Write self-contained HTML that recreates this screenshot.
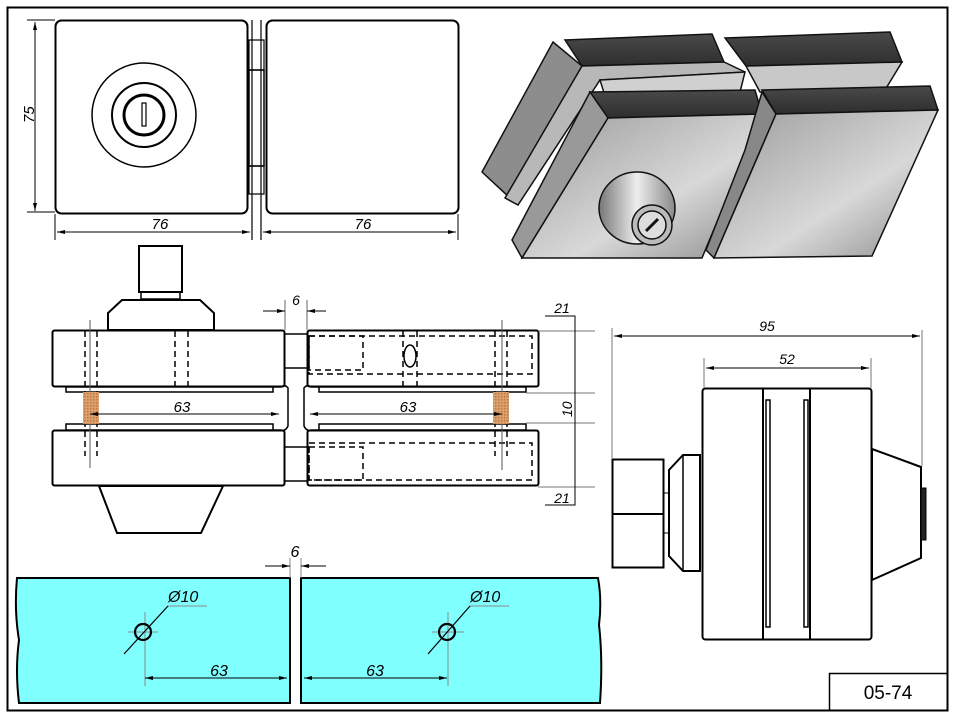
<!DOCTYPE html>
<html><head><meta charset="utf-8"><style>
html,body{margin:0;padding:0;background:#fff;}
svg{display:block;}
text{font-family:"Liberation Sans",sans-serif;}
</style></head><body>
<svg width="957" height="720" viewBox="0 0 957 720" xmlns="http://www.w3.org/2000/svg">
<defs>
<linearGradient id="gf" x1="0" y1="0" x2="1" y2="1">
<stop offset="0" stop-color="#9a9a9a"/><stop offset="0.6" stop-color="#d8d8d8"/><stop offset="1" stop-color="#8a8a8a"/></linearGradient>
<linearGradient id="gt" x1="0" y1="0" x2="0" y2="1">
<stop offset="0" stop-color="#4a4a4a"/><stop offset="1" stop-color="#2e2e2e"/></linearGradient>
<linearGradient id="gc" x1="0" y1="0" x2="1" y2="0">
<stop offset="0" stop-color="#777"/><stop offset="0.5" stop-color="#eee"/><stop offset="1" stop-color="#888"/></linearGradient>
<pattern id="hat" width="3" height="3" patternUnits="userSpaceOnUse"><rect width="3" height="3" fill="#d9a070"/><rect width="1.5" height="1.5" fill="#c07a40"/></pattern>
<marker id="ar" markerWidth="8" markerHeight="6" refX="8" refY="3" orient="auto-start-reverse" markerUnits="userSpaceOnUse"><path d="M0,1 L8,3 L0,5 Z" fill="#000"/></marker>
</defs>
<rect x="7.5" y="7.5" width="940" height="703" fill="none" stroke="#000" stroke-width="2"/>
<rect x="829.5" y="673.5" width="118" height="37" fill="none" stroke="#000" stroke-width="1.5"/>
<text x="888" y="699" font-size="19" text-anchor="middle">05-74</text>

<g fill="none" stroke="#000">
<rect x="55.5" y="20.5" width="192" height="193" rx="6" stroke-width="2"/>
<rect x="266.5" y="20.5" width="192" height="193" rx="6" stroke-width="2"/>
<line x1="252" y1="20" x2="252" y2="240" stroke-width="1.2"/>
<line x1="261" y1="20" x2="261" y2="240" stroke-width="1.2"/>
<rect x="249" y="40" width="15" height="30" stroke-width="1.2"/>
<rect x="249" y="70" width="15" height="96" stroke-width="1.5"/>
<rect x="249" y="166" width="15" height="28" stroke-width="1.2"/>
<circle cx="144" cy="115" r="52" stroke-width="1.5"/>
<circle cx="144" cy="115" r="32" stroke-width="2"/>
<circle cx="144" cy="115" r="20" stroke-width="3"/>
<rect x="142" y="103" width="4" height="23" stroke-width="1.2"/>
<line x1="27" y1="20" x2="55" y2="20" stroke-width="1"/>
<line x1="27" y1="212" x2="55" y2="212" stroke-width="1"/>
<line x1="35" y1="22" x2="35" y2="211" stroke-width="1" marker-start="url(#ar)" marker-end="url(#ar)"/>
<line x1="55" y1="214" x2="55" y2="240" stroke-width="1"/>
<line x1="458" y1="214" x2="458" y2="240" stroke-width="1"/>
<line x1="57" y1="232" x2="250" y2="232" stroke-width="1" marker-start="url(#ar)" marker-end="url(#ar)"/>
<line x1="263" y1="232" x2="456" y2="232" stroke-width="1" marker-start="url(#ar)" marker-end="url(#ar)"/>
</g>
<text x="0" y="0" font-size="15" font-style="italic" transform="translate(34,123) rotate(-90)">75</text>
<text x="160" y="229" font-size="15" font-style="italic" text-anchor="middle">76</text>
<text x="363" y="229" font-size="15" font-style="italic" text-anchor="middle">76</text>

<g stroke="#111" stroke-width="1.5">
<polygon points="725,38 890,32 902,62 746,66" fill="url(#gt)"/>
<polygon points="746,66 902,62 885,90 760,92" fill="#c8c8c8"/>
<polygon points="565,40 712,34 724,62 582,66" fill="url(#gt)"/>
<polygon points="553,42 582,66 510,198 482,172" fill="#8d8d8d"/>
<polygon points="582,66 724,62 745,72 600,80 518,205 505,198" fill="#b8b8b8"/>
<polygon points="600,80 745,72 740,92 605,96" fill="#d0d0d0"/>
<polygon points="590,92 755,90 762,114 608,118" fill="url(#gt)"/>
<polygon points="590,92 608,118 522,258 512,240" fill="#999"/>
<polygon points="608,118 762,114 702,258 522,258" fill="url(#gf)"/>
<polygon points="762,90 930,86 938,110 776,114" fill="url(#gt)"/>
<polygon points="762,92 776,114 714,258 706,250 745,150" fill="#888"/>
<polygon points="776,114 938,110 872,256 714,258" fill="url(#gf)"/>
<ellipse cx="637" cy="208" rx="38" ry="36" fill="url(#gc)"/>
<circle cx="652" cy="225" r="20" fill="#bbb"/>
<circle cx="652" cy="225" r="14" fill="#ddd"/>
<line x1="646" y1="231" x2="658" y2="219" stroke-width="3"/>
</g>

<g fill="none" stroke="#000">
<rect x="139" y="246" width="43" height="46" stroke-width="2" fill="#fff"/>
<rect x="141" y="292" width="39" height="7" stroke-width="1.5"/>
<polygon points="122,300 200,300 214,313 214,330 108,330 108,313" stroke-width="2" fill="#fff"/>
<rect x="52.5" y="330.5" width="232" height="56" rx="2" stroke-width="2"/>
<rect x="52.5" y="430.5" width="232" height="55" rx="2" stroke-width="2"/>
<rect x="307.5" y="330.5" width="231" height="56" rx="2" stroke-width="2"/>
<rect x="307.5" y="430.5" width="231" height="55" rx="2" stroke-width="2"/>
<rect x="66" y="387" width="207" height="5" stroke-width="1.5"/>
<rect x="66" y="424" width="207" height="6" stroke-width="1.5"/>
<rect x="319" y="387" width="207" height="5" stroke-width="1.5"/>
<rect x="319" y="424" width="207" height="6" stroke-width="1.5"/>
<path d="M273,387 H281 Q285,384 288,388 V426 Q285,432 281,430 H273" stroke-width="1.5"/>
<path d="M319,387 H311 Q307,384 304,388 V426 Q307,432 311,430 H319" stroke-width="1.5"/>
<line x1="285" y1="334" x2="307" y2="334" stroke-width="1.5"/>
<line x1="285" y1="368" x2="307" y2="368" stroke-width="1.5"/>
<line x1="285" y1="447" x2="307" y2="447" stroke-width="1.5"/>
<line x1="285" y1="481" x2="307" y2="481" stroke-width="1.5"/>
<polygon points="99,486 223,486 201,533 117,533" stroke-width="2" fill="#fff"/>
<g stroke-dasharray="6,4" stroke-width="1.5">
<line x1="85" y1="331" x2="85" y2="456"/><line x1="97" y1="331" x2="97" y2="456"/>
<line x1="175" y1="331" x2="175" y2="386"/><line x1="188" y1="331" x2="188" y2="386"/>
<rect x="309" y="336" width="54" height="34"/>
<rect x="309" y="336" width="223" height="38"/>
<line x1="403" y1="331" x2="403" y2="386"/><line x1="417" y1="331" x2="417" y2="386"/>
<line x1="495" y1="331" x2="495" y2="456"/><line x1="507" y1="331" x2="507" y2="456"/>
<rect x="309" y="443" width="223" height="37"/>
<rect x="309" y="447" width="54" height="33"/>
</g>
<ellipse cx="410" cy="356" rx="6" ry="11" stroke-width="1.5"/>
<line x1="90" y1="320" x2="90" y2="468" stroke="#555" stroke-width="1"/>
<line x1="502" y1="320" x2="502" y2="470" stroke="#555" stroke-width="1"/>
</g>
<rect x="83" y="392" width="16" height="32" fill="url(#hat)"/>
<rect x="493" y="392" width="16" height="32" fill="url(#hat)"/>
<g fill="none" stroke="#000" stroke-width="1">
<line x1="90" y1="414" x2="279" y2="414" marker-start="url(#ar)" marker-end="url(#ar)"/>
<line x1="310" y1="414" x2="502" y2="414" marker-start="url(#ar)" marker-end="url(#ar)"/>
<line x1="285" y1="300" x2="285" y2="330" stroke="#666"/>
<line x1="307" y1="300" x2="307" y2="330" stroke="#666"/>
<line x1="263" y1="311" x2="285" y2="311" marker-end="url(#ar)"/><line x1="326" y1="311" x2="307" y2="311" marker-end="url(#ar)"/>
<g stroke="#777"><line x1="538" y1="331" x2="595" y2="331"/><line x1="526" y1="393" x2="595" y2="393"/>
<line x1="526" y1="423" x2="595" y2="423"/><line x1="538" y1="487" x2="595" y2="487"/></g>
<polyline points="545,316 575,316 575,505 545,505"/>
</g>
<text x="296" y="305" font-size="14" font-style="italic" text-anchor="middle">6</text>
<text x="182" y="412" font-size="15" font-style="italic" text-anchor="middle">63</text>
<text x="408" y="412" font-size="15" font-style="italic" text-anchor="middle">63</text>
<text x="562" y="313" font-size="14" font-style="italic" text-anchor="middle">21</text>
<text x="562" y="503" font-size="14" font-style="italic" text-anchor="middle">21</text>
<text x="0" y="0" font-size="14" font-style="italic" transform="translate(572,417) rotate(-90)">10</text>

<g fill="none" stroke="#000">
<rect x="702.5" y="388.5" width="169" height="251" rx="3" stroke-width="2"/>
<line x1="763" y1="389" x2="763" y2="639" stroke-width="2"/>
<line x1="810" y1="389" x2="810" y2="639" stroke-width="2"/>
<rect x="766" y="400" width="4" height="227" stroke-width="1.5"/>
<rect x="804" y="400" width="4" height="227" stroke-width="1.5"/>
<rect x="612.5" y="459.5" width="51" height="108" stroke-width="2"/>
<line x1="612" y1="514" x2="663" y2="514" stroke-width="2"/>
<polygon points="683,455 700,455 700,571 683,571 669,556 669,470" stroke-width="2"/>
<line x1="683" y1="456" x2="683" y2="570" stroke-width="1.5"/>
<line x1="663" y1="493" x2="669" y2="493"/><line x1="663" y1="533" x2="669" y2="533"/>
<polygon points="872,449 921,467 921,558 872,580" stroke-width="2"/>
<rect x="921" y="488" width="5" height="52" fill="#222" stroke-width="1"/>
<g stroke="#777" stroke-width="1"><line x1="612" y1="328" x2="612" y2="458"/><line x1="922" y1="330" x2="922" y2="466"/>
<line x1="704" y1="358" x2="704" y2="388"/><line x1="871" y1="358" x2="871" y2="388"/></g>
<line x1="614" y1="336" x2="920" y2="336" stroke-width="1" marker-start="url(#ar)" marker-end="url(#ar)"/>
<line x1="706" y1="368" x2="869" y2="368" stroke-width="1" marker-start="url(#ar)" marker-end="url(#ar)"/>
</g>
<text x="767" y="331" font-size="14" font-style="italic" text-anchor="middle">95</text>
<text x="787" y="364" font-size="14" font-style="italic" text-anchor="middle">52</text>

<path d="M17,578 H290 V703 H19 Q15,670 19,640 Q14,610 17,578 Z" fill="#80ffff" stroke="#000" stroke-width="2"/>
<path d="M301,578 H598 Q602,600 599,625 Q603,660 600,703 H301 Z" fill="#80ffff" stroke="#000" stroke-width="2"/>
<g stroke="#888" stroke-width="1" fill="none">
<line x1="128" y1="632" x2="158" y2="632"/><line x1="145" y1="612" x2="145" y2="686"/>
<line x1="432" y1="632" x2="464" y2="632"/><line x1="448" y1="612" x2="448" y2="686"/>
<line x1="168" y1="606" x2="207" y2="606"/><line x1="470" y1="606" x2="509" y2="606"/>
<line x1="290" y1="558" x2="290" y2="578"/><line x1="301" y1="558" x2="301" y2="578"/>
</g>
<g stroke="#000" stroke-width="1" fill="none">
<line x1="145" y1="678" x2="287" y2="678" marker-start="url(#ar)" marker-end="url(#ar)"/>
<line x1="304" y1="678" x2="447" y2="678" marker-start="url(#ar)" marker-end="url(#ar)"/>
<line x1="265" y1="566" x2="290" y2="566" marker-end="url(#ar)"/>
<line x1="326" y1="566" x2="301" y2="566" marker-end="url(#ar)"/>
</g>
<g stroke="#000" fill="none">
<circle cx="143" cy="632" r="8" stroke-width="2.2"/>
<circle cx="447" cy="632" r="8" stroke-width="2.2"/>
<line x1="124" y1="654" x2="168" y2="606" stroke-width="1.2"/>
<line x1="428" y1="654" x2="470" y2="606" stroke-width="1.2"/>
</g>
<text x="168" y="602" font-size="16" font-style="italic">Ø10</text>
<text x="470" y="602" font-size="16" font-style="italic">Ø10</text>
<text x="219" y="676" font-size="16" font-style="italic" text-anchor="middle">63</text>
<text x="375" y="676" font-size="16" font-style="italic" text-anchor="middle">63</text>
<text x="295" y="557" font-size="16" font-style="italic" text-anchor="middle">6</text>
</svg>
</body></html>
